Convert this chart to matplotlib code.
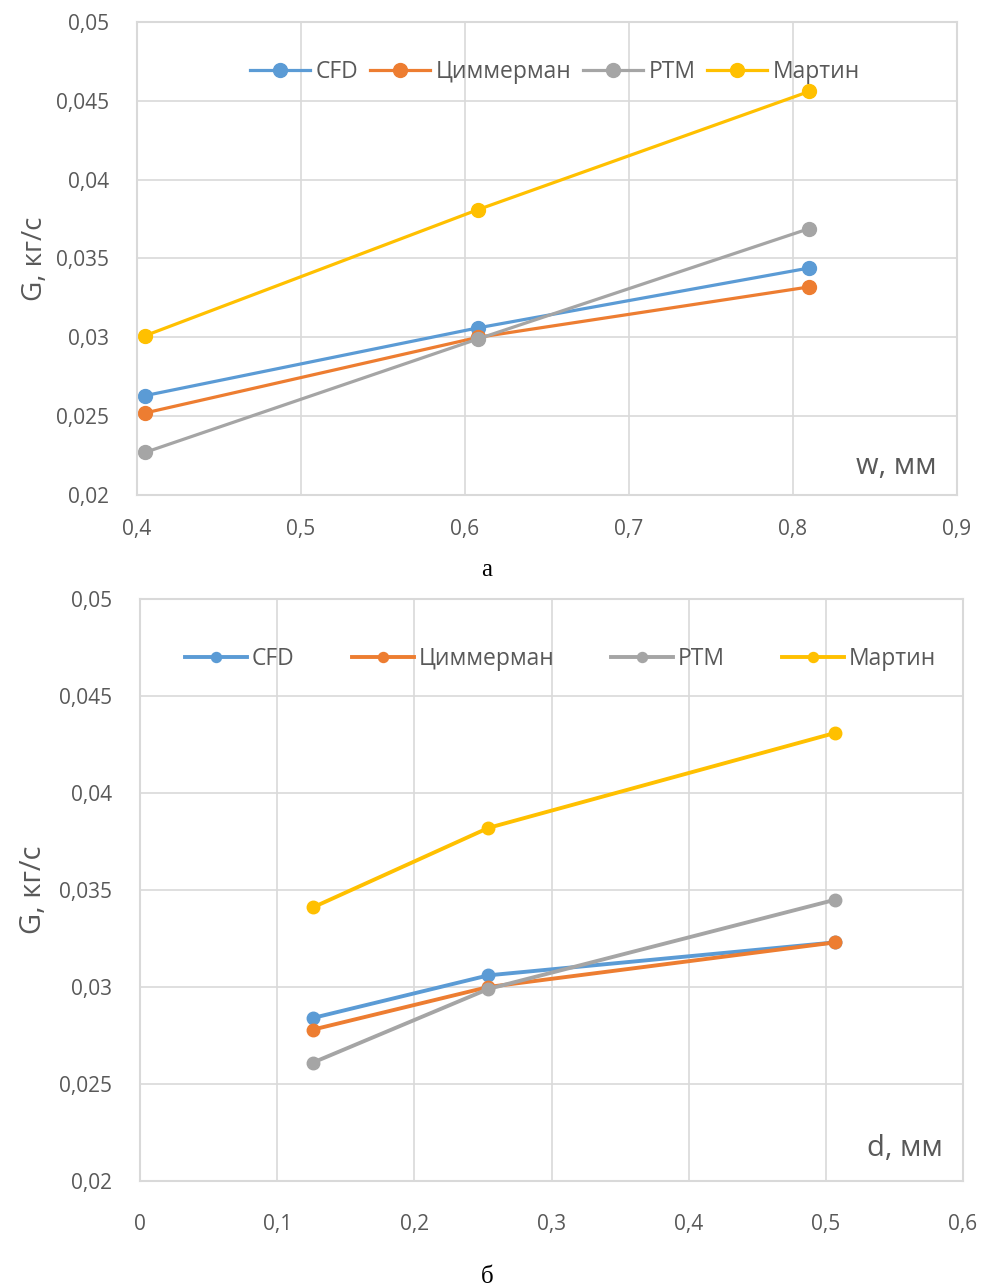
import matplotlib
matplotlib.use("Agg")
import matplotlib.pyplot as plt

plt.rcParams['font.family'] = ['Open Sans', 'DejaVu Sans']

series_names = ["CFD", "Циммерман", "РТМ", "Мартин"]
colors = ["#5B9BD5", "#ED7D31", "#A5A5A5", "#FFC000"]

# Chart а
w_vals = [0.405, 0.608, 0.81]
a_cfd = [0.0263, 0.0306, 0.0344]
a_zim = [0.0252, 0.0300, 0.0332]
a_rtm = [0.0227, 0.0299, 0.0369]
a_mar = [0.0301, 0.0381, 0.0456]

# Chart б
d_vals = [0.126, 0.254, 0.507]
b_cfd = [0.0284, 0.0306, 0.0323]
b_zim = [0.0278, 0.0300, 0.0323]
b_rtm = [0.0261, 0.0299, 0.0345]
b_mar = [0.0341, 0.0382, 0.0431]

y_ticks = [0.02, 0.025, 0.03, 0.035, 0.04, 0.045, 0.05]
a_xticks = [0.4, 0.5, 0.6, 0.7, 0.8, 0.9]
b_xticks = [0.0, 0.1, 0.2, 0.3, 0.4, 0.5, 0.6]

def fmt(v):
    s = ("%.3f" % v).rstrip('0').rstrip('.')
    return s.replace('.', ',')

fig = plt.figure(figsize=(9.84, 12.87), dpi=100)
grid_c = "#D9D9D9"
text_c = "#595959"

def setup(ax, xticks, xlim, xlabel, xpad, ylabelsize, xlabsize, ylabpad):
    ax.set_xlim(*xlim)
    ax.set_ylim(0.02, 0.05)
    ax.set_xticks(xticks)
    ax.set_xticklabels([fmt(v) for v in xticks])
    ax.set_yticks(y_ticks)
    ax.set_yticklabels([fmt(v) for v in y_ticks])
    ax.grid(True, color=grid_c, linewidth=1.2)
    ax.set_axisbelow(True)
    for s in ax.spines.values():
        s.set_color(grid_c)
        s.set_linewidth(1.5)
    ax.tick_params(axis='y', length=0, labelsize=15, labelcolor=text_c, pad=20)
    ax.tick_params(axis='x', length=0, labelsize=15, labelcolor=text_c, pad=xpad)
    ax.set_ylabel("G, кг/с", fontsize=ylabelsize, color=text_c, labelpad=ylabpad)
    ax.text(0.975, 0.03, xlabel, transform=ax.transAxes, ha='right', va='bottom',
            fontsize=xlabsize, color=text_c)

ax1 = fig.add_axes([0.139, 0.6154, 0.8336, 0.3675])
for ys, c, n in zip([a_cfd, a_zim, a_rtm, a_mar], colors, series_names):
    ax1.plot(w_vals, ys, color=c, linewidth=2.3, marker='o', markersize=10, label=n, clip_on=False)
setup(ax1, a_xticks, (0.4, 0.9), "w, мм", 17, 20, 21, 5)
leg1 = ax1.legend(loc='center', bbox_to_anchor=(0.51, 0.895), ncol=4, frameon=False,
                  fontsize=16.5, handlelength=2.6, handletextpad=0.27, columnspacing=0.5,
                  labelcolor=text_c)

ax2 = fig.add_axes([0.1423, 0.0824, 0.8364, 0.4522])
for ys, c, n in zip([b_cfd, b_zim, b_rtm, b_mar], colors, series_names):
    ax2.plot(d_vals, ys, color=c, linewidth=2.8, marker='o', markersize=9, label=n, clip_on=False)
setup(ax2, b_xticks, (0.0, 0.6), "d, мм", 24, 21, 21, 8)
leg2 = ax2.legend(loc='center', bbox_to_anchor=(0.511, 0.896), ncol=4, frameon=False,
                  fontsize=16.5, handlelength=2.7, handletextpad=0.2, columnspacing=2.5,
                  labelcolor=text_c, markerscale=0.8)

fig.text(487/984, 1 - 570/1287, "а", ha='center', va='center', fontsize=18,
         family=['Liberation Serif', 'DejaVu Serif'])
fig.text(487/984, 1 - 1277/1287, "б", ha='center', va='center', fontsize=18,
         family=['Liberation Serif', 'DejaVu Serif'])

fig.savefig("out.png", dpi=100, facecolor='white')
